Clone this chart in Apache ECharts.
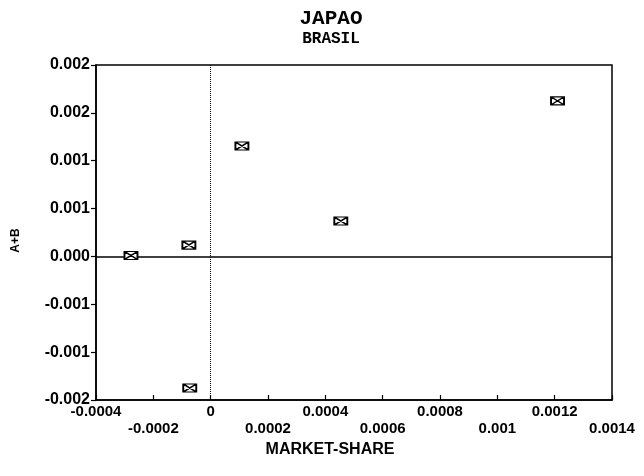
<!DOCTYPE html>
<html>
<head>
<meta charset="utf-8">
<script src="https://cdn.jsdelivr.net/npm/echarts@6/dist/echarts.min.js"></script>
<style>
html,body{margin:0;padding:0;background:#fff;}
#chart{width:644px;height:476px;}
</style>
</head>
<body>
<div id="chart"></div>
<script>
// ---- data ----
const titleMain = 'JAPAO';
const titleSub = 'BRASIL';
const xName = 'MARKET-SHARE';
const yName = 'A+B';
const xValues = [0.00121, 0.000109, 0.000454, -0.000076, -0.000278, -0.000073];
const yValues = [0.001625, 0.001154, 0.00037, 0.000119, 0.00001, -0.001375];
const xTickLabels = ['-0.0004','-0.0002','0','0.0002','0.0004','0.0006','0.0008','0.001','0.0012','0.0014'];
const yTickLabels = ['-0.002','-0.001','-0.001','0.000','0.001','0.001','0.002','0.002'];

const xMin = -0.0004, xMax = 0.0014, xStep = 0.0002;
const yMin = -0.0015, yMax = 0.002, yStep = 0.0005;

const points = xValues.map((x, i) => [x, yValues[i]]);

const chart = echarts.init(document.getElementById('chart'), null, {renderer: 'canvas'});

chart.setOption({
  animation: false,
  backgroundColor: '#fff',
  graphic: [
    {type: 'text', x: 331, y: 8, style: {text: titleMain, textAlign: 'center', font: 'bold 21px "Liberation Mono"', fill: '#000'}},
    {type: 'text', x: 331, y: 31, style: {text: titleSub, textAlign: 'center', font: 'bold 16px "Liberation Mono"', fill: '#000'}}
  ],
  grid: {left: 96, right: 32, top: 65, bottom: 76, show: true, borderColor: '#000', borderWidth: 1.5, backgroundColor: 'transparent'},
  xAxis: {
    type: 'value', min: xMin, max: xMax, interval: xStep,
    name: xName, nameLocation: 'middle', nameGap: 40,
    nameTextStyle: {fontFamily: 'Liberation Sans', fontWeight: 'bold', fontSize: 16, color: '#000', padding: [0, 48, 0, 0]},
    axisLine: {show: true, onZero: false, lineStyle: {color: '#000', width: 1.5}},
    axisTick: {show: true, inside: true, length: 5, lineStyle: {color: '#000', width: 1.2}},
    splitLine: {show: false},
    axisLabel: {
      fontFamily: 'Liberation Sans', fontWeight: 'bold', fontSize: 15, color: '#000',
      margin: 3, lineHeight: 17, showMinLabel: true, showMaxLabel: true, hideOverlap: false,
      formatter: function (v) {
        const i = Math.round((v - xMin) / xStep);
        return i % 2 ? '\n' + xTickLabels[i] : xTickLabels[i];
      }
    }
  },
  yAxis: {
    type: 'value', min: yMin, max: yMax, interval: yStep,
    name: yName, nameLocation: 'middle', nameGap: 74, nameRotate: 90,
    nameTextStyle: {fontFamily: 'Liberation Sans', fontWeight: 'bold', fontSize: 12, color: '#000', padding: [0, 16, 0, 0]},
    axisLine: {show: true, onZero: false, lineStyle: {color: '#000', width: 1.5}},
    axisTick: {show: true, inside: false, length: 5, lineStyle: {color: '#000', width: 1.2}},
    splitLine: {show: false},
    axisLabel: {
      fontFamily: 'Liberation Sans', fontWeight: 'bold', fontSize: 16, color: '#000',
      margin: 6, showMinLabel: true, showMaxLabel: true,
      formatter: function (v) {
        const i = Math.round((v - yMin) / yStep);
        return yTickLabels[i];
      }
    }
  },
  series: [{
    type: 'scatter',
    data: points,
    symbol: 'path://M0,0H14V8H0Z M0,0L14,8 M14,0L0,8',
    symbolSize: [13, 8],
    itemStyle: {color: '#fff', borderColor: '#000', borderWidth: 1.5, opacity: 1},
    z: 5,
    markLine: {
      silent: true, symbol: 'none', animation: false,
      label: {show: false},
      data: [
        {yAxis: 0, lineStyle: {type: 'solid', width: 1.5, color: '#000'}},
        {xAxis: 0, lineStyle: {type: 'dotted', width: 1, color: '#000'}}
      ]
    }
  }]
});
</script>
</body>
</html>
